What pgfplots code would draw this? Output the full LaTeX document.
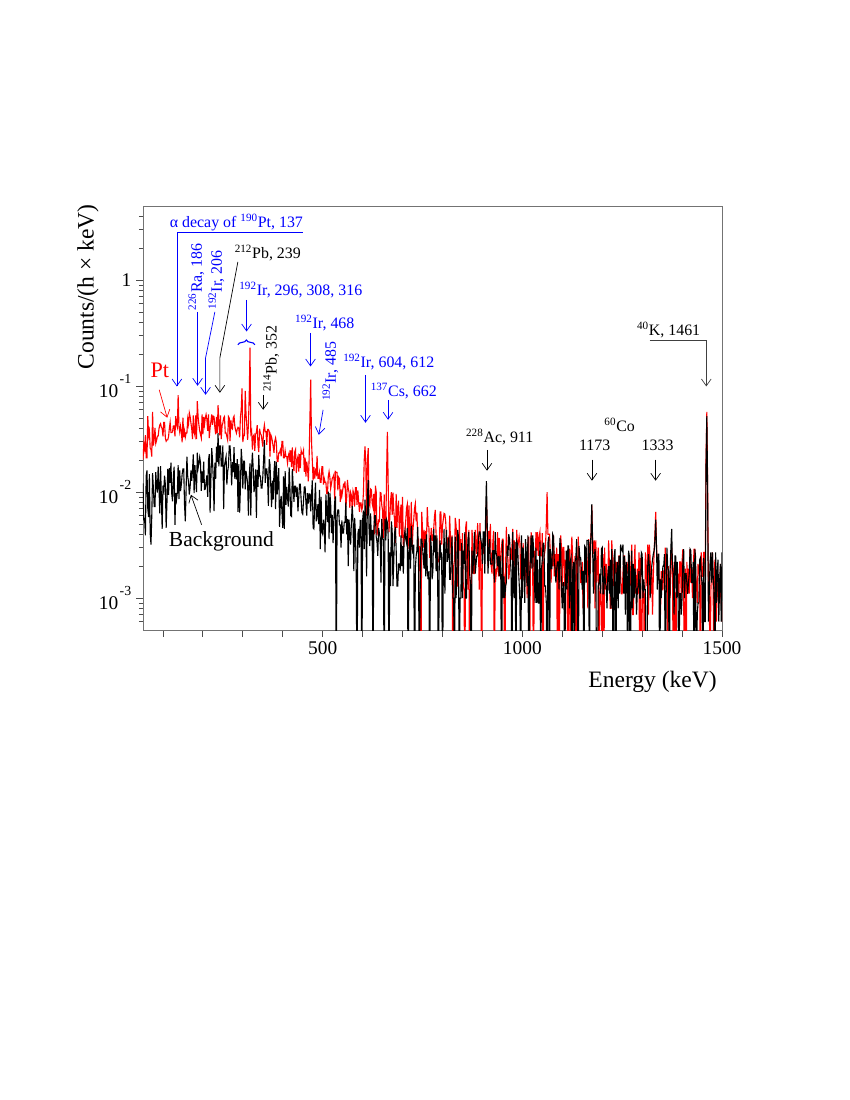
\documentclass[border=0pt]{standalone}
\usepackage{fontspec}
\setmainfont{Liberation Serif}
\usepackage{pgfplots}
\pgfplotsset{compat=1.18}
\usepackage{pgfplotstable}
\usetikzlibrary{arrows.meta,decorations.pathreplacing}

% gamma spectra, counts/(h x keV), 2 keV bins; 1e-4 marks an empty bin
\pgfplotstableread{
E Pt Bg
50 0.0203 0.0121
52 0.0281 0.0055
54 0.0254 0.0056
56 0.0345 0.0039
58 0.0211 0.0143
60 0.0211 0.0160
62 0.052 0.0070
64 0.0342 0.0058
66 0.0377 0.0148
68 0.0261 0.0041
70 0.0252 0.0032
72 0.0216 0.0060
74 0.057 0.0151
76 0.0275 0.0109
78 0.0316 0.0073
80 0.0403 0.0073
82 0.0288 0.0154
84 0.0307 0.0111
86 0.0337 0.0099
88 0.0337 0.0174
90 0.0396 0.0113
92 0.0429 0.0063
94 0.0442 0.0176
96 0.0408 0.0088
98 0.0399 0.0045
100 0.0336 0.0115
102 0.0455 0.0104
104 0.0455 0.0143
106 0.0324 0.0118
108 0.0302 0.0046
110 0.0311 0.0080
112 0.0311 0.0166
114 0.0333 0.0094
116 0.0400 0.0168
118 0.0456 0.0122
120 0.0365 0.0190
122 0.0365 0.0096
124 0.0370 0.0082
126 0.0421 0.0139
128 0.0421 0.0174
130 0.0336 0.0049
132 0.0520 0.0098
134 0.0432 0.0085
136 0.0408 0.0099
138 0.082 0.0180
140 0.0418 0.0086
142 0.0369 0.0160
144 0.0420 0.0102
146 0.0375 0.0118
148 0.0295 0.0147
150 0.0504 0.0165
152 0.0328 0.0165
154 0.0378 0.0076
156 0.0330 0.0053
158 0.0361 0.0108
160 0.0361 0.0216
162 0.0490 0.0140
164 0.0439 0.0125
166 0.0559 0.0095
168 0.0516 0.0111
170 0.0449 0.0160
172 0.0396 0.0128
174 0.0317 0.0162
176 0.0530 0.0227
178 0.0370 0.0098
180 0.0343 0.0180
182 0.0528 0.0133
184 0.0317 0.0100
186 0.072 0.0235
188 0.0513 0.0168
190 0.0432 0.0187
192 0.0378 0.0213
194 0.0351 0.0189
196 0.0324 0.0103
198 0.0540 0.0157
200 0.0351 0.0122
202 0.0513 0.0194
204 0.0432 0.0106
206 0.050 0.0107
208 0.0540 0.0125
210 0.0486 0.0144
212 0.0378 0.0090
214 0.0540 0.0200
216 0.0324 0.0228
218 0.0405 0.0064
220 0.0459 0.0129
222 0.0540 0.0260
224 0.0432 0.0205
226 0.0520 0.0132
228 0.0513 0.0066
230 0.0405 0.0190
232 0.0351 0.0133
234 0.0513 0.0269
236 0.0360 0.0192
238 0.066 0.036
240 0.0450 0.0175
242 0.0343 0.0273
244 0.0528 0.0273
246 0.0317 0.0176
248 0.0422 0.0176
250 0.0449 0.0276
252 0.0500 0.0069
254 0.0516 0.0177
256 0.0361 0.0197
258 0.0361 0.0216
260 0.0335 0.0118
262 0.0310 0.0156
264 0.0516 0.0176
266 0.0500 0.0272
268 0.0302 0.0272
270 0.0479 0.0193
272 0.0403 0.0116
274 0.0394 0.0192
276 0.0500 0.0154
278 0.0520 0.0266
280 0.0418 0.0133
282 0.0384 0.0188
284 0.0360 0.0132
286 0.0392 0.0205
288 0.0408 0.0065
290 0.0398 0.0184
292 0.0328 0.0064
294 0.0507 0.0109
296 0.0600 0.0255
298 0.095 0.0198
300 0.0296 0.0108
302 0.0342 0.0196
304 0.0342 0.0196
306 0.090 0.0106
308 0.0550 0.0158
310 0.0422 0.0139
312 0.0311 0.0122
314 0.0432 0.0060
316 0.0800 0.0138
318 0.23 0.0187
320 0.0357 0.0060
322 0.0378 0.0168
324 0.0252 0.0235
326 0.0336 0.0166
328 0.0347 0.0100
330 0.0245 0.0115
332 0.0350 0.0164
334 0.0367 0.0057
336 0.0429 0.0162
338 0.0277 0.0112
340 0.0238 0.0224
342 0.0396 0.0142
344 0.0356 0.0142
346 0.0346 0.0109
348 0.0307 0.0109
350 0.0269 0.0139
352 0.0380 0.0200
354 0.043 0.031
356 0.0372 0.0122
358 0.0372 0.0165
360 0.0279 0.0165
362 0.0390 0.0133
364 0.0390 0.0074
366 0.0375 0.0204
368 0.0216 0.0183
370 0.0348 0.0115
372 0.0331 0.0072
374 0.0302 0.0128
376 0.0269 0.0085
378 0.0235 0.0154
380 0.0302 0.0196
382 0.0324 0.0069
384 0.0292 0.0193
386 0.0194 0.0095
388 0.0194 0.0122
390 0.0234 0.0168
392 0.0234 0.0047
394 0.0250 0.0079
396 0.0218 0.0092
398 0.0300 0.0065
400 0.0300 0.0046
402 0.0210 0.0141
404 0.0210 0.0045
406 0.0245 0.0158
408 0.0216 0.0076
410 0.0216 0.0112
412 0.0187 0.0087
414 0.0221 0.0073
416 0.0235 0.0171
418 0.0193 0.0108
420 0.0248 0.0060
422 0.0172 0.0059
424 0.0264 0.0165
426 0.0178 0.0116
428 0.0158 0.0081
430 0.0239 0.0114
432 0.0252 0.0114
434 0.0151 0.0090
436 0.0202 0.0112
438 0.0216 0.0066
440 0.0156 0.0088
442 0.0228 0.0119
444 0.0168 0.0119
446 0.0247 0.0085
448 0.0228 0.0064
450 0.0228 0.0062
452 0.0247 0.0083
454 0.0155 0.0112
456 0.0211 0.0112
458 0.0140 0.0080
460 0.0194 0.0060
462 0.0168 0.0098
464 0.0126 0.0078
466 0.0204 0.0096
468 0.0500 0.0096
470 0.115 0.0066
472 0.0300 0.0094
474 0.0198 0.0129
476 0.0129 0.0046
478 0.0173 0.0045
480 0.0134 0.0081
482 0.0158 0.0123
484 0.0149 0.0053
486 0.022 0.0060
488 0.0135 0.0077
490 0.0135 0.0050
492 0.0153 0.0105
494 0.0124 0.0029
496 0.0124 0.0090
498 0.0174 0.0042
500 0.0174 0.0040
502 0.0118 0.0055
504 0.0134 0.0047
506 0.0124 0.0027
508 0.0124 0.0095
510 0.0097 0.0067
512 0.0097 0.0052
514 0.0140 0.0101
516 0.0156 0.0036
518 0.0138 0.0098
520 0.0108 0.0077
522 0.0120 0.0041
524 0.0135 0.0061
526 0.0139 0.0033
528 0.0146 0.0053
530 0.0086 0.0081
532 0.0156 0.0091
534 0.0153 0.0001
536 0.0153 0.0058
538 0.0104 0.0068
540 0.0138 0.0068
542 0.0134 0.0049
544 0.0081 0.0049
546 0.0106 0.0030
548 0.0092 0.0054
550 0.0104 0.0041
552 0.0117 0.0041
554 0.0113 0.0052
556 0.0126 0.0052
558 0.0073 0.0080
560 0.0086 0.0040
562 0.0130 0.0056
564 0.0108 0.0020
566 0.0100 0.0055
568 0.0071 0.0039
570 0.0099 0.0032
572 0.0093 0.0054
574 0.0068 0.0074
576 0.0103 0.0053
578 0.0096 0.0018
580 0.0073 0.0057
582 0.0110 0.0041
584 0.0110 0.0018
586 0.0076 0.0001
588 0.0104 0.0040
590 0.0082 0.0045
592 0.0065 0.0030
594 0.0079 0.0054
596 0.0079 0.0054
598 0.0068 0.0001
600 0.0073 0.0054
602 0.0098 0.0067
604 0.0200 0.0029
606 0.027 0.0085
608 0.0180 0.0047
610 0.0060 0.0016
612 0.0200 0.0090
614 0.026 0.013
616 0.0080 0.0046
618 0.0074 0.0031
620 0.0107 0.0063
622 0.0105 0.0035
624 0.0078 0.0044
626 0.0072 0.0001
628 0.0096 0.0044
630 0.0040 0.0060
632 0.0115 0.0060
634 0.0101 0.0038
636 0.0039 0.0034
638 0.0046 0.0025
640 0.0054 0.0046
642 0.0053 0.0041
644 0.0099 0.0037
646 0.0098 0.0014
648 0.0075 0.0056
650 0.0067 0.0036
652 0.0037 0.0036
654 0.0095 0.0001
656 0.0044 0.0056
658 0.0043 0.0035
660 0.0150 0.0055
662 0.037 0.0052
664 0.0120 0.0039
666 0.0042 0.0001
668 0.0056 0.0027
670 0.0083 0.0013
672 0.0100 0.0053
674 0.0061 0.0043
676 0.0099 0.0013
678 0.0067 0.0022
680 0.0054 0.0041
682 0.0033 0.0047
684 0.0096 0.0029
686 0.0046 0.0013
688 0.0072 0.0013
690 0.0083 0.0021
692 0.0038 0.0021
694 0.0057 0.0018
696 0.0076 0.0039
698 0.0037 0.0020
700 0.0090 0.0031
702 0.0030 0.0017
704 0.0037 0.0037
706 0.0042 0.0043
708 0.0054 0.0036
710 0.0071 0.0033
712 0.0077 0.0046
714 0.0029 0.0001
716 0.0075 0.0026
718 0.0034 0.0037
720 0.0040 0.0019
722 0.0081 0.0048
724 0.0028 0.0032
726 0.0044 0.0026
728 0.0055 0.0032
730 0.0070 0.0001
732 0.0078 0.0019
734 0.0053 0.0025
736 0.0064 0.0028
738 0.0036 0.0047
740 0.0036 0.0022
742 0.0018 0.0001
744 0.0031 0.0011
746 0.0001 0.0036
748 0.0065 0.0036
750 0.0045 0.0031
752 0.0030 0.0023
754 0.0044 0.0019
756 0.0029 0.0036
758 0.0043 0.0016
760 0.0036 0.0040
762 0.0072 0.0018
764 0.0048 0.0015
766 0.0047 0.0018
768 0.0024 0.0001
770 0.0035 0.0039
772 0.0046 0.0030
774 0.0035 0.0015
776 0.0035 0.0018
778 0.0045 0.0045
780 0.0059 0.0027
782 0.0068 0.0039
784 0.0040 0.0018
786 0.0022 0.0039
788 0.0022 0.0015
790 0.0022 0.0001
792 0.0026 0.0027
794 0.0065 0.0035
796 0.0065 0.0023
798 0.0032 0.0027
800 0.0048 0.0001
802 0.0055 0.0018
804 0.0063 0.0045
806 0.0062 0.0011
808 0.0053 0.0027
810 0.0037 0.0044
812 0.0037 0.0022
814 0.0030 0.0026
816 0.0024 0.0038
818 0.0060 0.0015
820 0.0036 0.0015
822 0.0023 0.0026
824 0.0039 0.0038
826 0.0001 0.0010
828 0.0020 0.0010
830 0.0023 0.0001
832 0.0057 0.0038
834 0.0049 0.0010
836 0.0034 0.0015
838 0.0013 0.0044
840 0.0013 0.0038
842 0.0056 0.0001
844 0.0028 0.0010
846 0.0036 0.0010
848 0.0013 0.0033
850 0.0041 0.0010
852 0.0013 0.0028
854 0.0012 0.0021
856 0.0001 0.0042
858 0.0046 0.0010
860 0.0053 0.0010
862 0.0018 0.0025
864 0.0012 0.0036
866 0.0044 0.0042
868 0.0001 0.0017
870 0.0012 0.0014
872 0.0012 0.0001
874 0.0044 0.0028
876 0.0031 0.0017
878 0.0017 0.0025
880 0.0017 0.0042
882 0.0044 0.0017
884 0.0031 0.0021
886 0.0026 0.0025
888 0.0051 0.0025
890 0.0031 0.0036
892 0.0012 0.0042
894 0.0051 0.0042
896 0.0020 0.0036
898 0.0001 0.0032
900 0.0031 0.0021
902 0.0026 0.0042
904 0.0039 0.0042
906 0.0031 0.0017
908 0.0040 0.0060
910 0.0083 0.0127
912 0.0050 0.0050
914 0.0020 0.0017
916 0.0043 0.0028
918 0.0030 0.0036
920 0.0050 0.0021
922 0.0020 0.0021
924 0.0017 0.0021
926 0.0033 0.0028
928 0.0043 0.0028
930 0.0001 0.0014
932 0.0019 0.0042
934 0.0016 0.0027
936 0.0019 0.0025
938 0.0042 0.0020
940 0.0016 0.0025
942 0.0037 0.0016
944 0.0019 0.0025
946 0.0023 0.0016
948 0.0031 0.0001
950 0.0036 0.0035
952 0.0036 0.0010
954 0.0011 0.0016
956 0.0001 0.0010
958 0.0019 0.0013
960 0.0047 0.0014
962 0.0027 0.0031
964 0.0023 0.0025
966 0.0015 0.0040
968 0.0018 0.0036
970 0.0030 0.0024
972 0.0023 0.0017
974 0.0031 0.0001
976 0.0045 0.0042
978 0.0015 0.0013
980 0.0035 0.0010
982 0.0022 0.0034
984 0.0015 0.0001
986 0.0044 0.0034
988 0.0029 0.0032
990 0.0033 0.0020
992 0.0038 0.0014
994 0.0033 0.0009
996 0.0015 0.0001
998 0.0026 0.0039
1000 0.0017 0.0010
1002 0.0033 0.0030
1004 0.0015 0.0021
1006 0.0015 0.0009
1008 0.0017 0.0036
1010 0.0022 0.0026
1012 0.0010 0.0013
1014 0.0033 0.0039
1016 0.0038 0.0001
1018 0.0001 0.0016
1020 0.0017 0.0023
1022 0.0042 0.0039
1024 0.0032 0.0019
1026 0.0017 0.0039
1028 0.0001 0.0030
1030 0.0028 0.0016
1032 0.0017 0.0009
1034 0.0042 0.0030
1036 0.0028 0.0009
1038 0.0042 0.0023
1040 0.0025 0.0009
1042 0.0038 0.0009
1044 0.0042 0.0034
1046 0.0025 0.0001
1048 0.0025 0.0019
1050 0.0041 0.0023
1052 0.0001 0.0033
1054 0.0024 0.0033
1056 0.0027 0.0013
1058 0.0031 0.0013
1060 0.0050 0.0009
1062 0.010 0.0001
1064 0.0040 0.0033
1066 0.0040 0.0038
1068 0.0040 0.0001
1070 0.0027 0.0029
1072 0.0014 0.0019
1074 0.0026 0.0019
1076 0.0020 0.0040
1078 0.0039 0.0038
1080 0.0016 0.0022
1082 0.0026 0.0019
1084 0.0016 0.0014
1086 0.0030 0.0019
1088 0.0001 0.0022
1090 0.0026 0.0022
1092 0.0001 0.0012
1094 0.0013 0.0037
1096 0.0039 0.0028
1098 0.0030 0.0012
1100 0.0013 0.0008
1102 0.0030 0.0014
1104 0.0030 0.0014
1106 0.0013 0.0001
1108 0.0023 0.0012
1110 0.0020 0.0028
1112 0.0016 0.0012
1114 0.0001 0.0031
1116 0.0020 0.0031
1118 0.0029 0.0008
1120 0.0001 0.0022
1122 0.0025 0.0024
1124 0.0038 0.0001
1126 0.0024 0.0018
1128 0.0013 0.0022
1130 0.0015 0.0001
1132 0.0025 0.0022
1134 0.0001 0.0024
1136 0.0025 0.0036
1138 0.0015 0.0012
1140 0.0038 0.0001
1142 0.0023 0.0031
1144 0.0023 0.0024
1146 0.0014 0.0024
1148 0.0014 0.0018
1150 0.0022 0.0012
1152 0.0008 0.0018
1154 0.0018 0.0001
1156 0.0018 0.0031
1158 0.0028 0.0030
1160 0.0028 0.0014
1162 0.0022 0.0035
1164 0.0008 0.0035
1166 0.0036 0.0035
1168 0.0031 0.0001
1170 0.0017 0.0030
1172 0.0040 0.0040
1174 0.0075 0.0077
1176 0.0035 0.0030
1178 0.0026 0.0011
1180 0.0035 0.0023
1182 0.0008 0.0029
1184 0.0035 0.0023
1186 0.0014 0.0001
1188 0.0021 0.0001
1190 0.0030 0.0013
1192 0.0001 0.0014
1194 0.0012 0.0017
1196 0.0014 0.0011
1198 0.0008 0.0029
1200 0.0001 0.0030
1202 0.0026 0.0011
1204 0.0001 0.0011
1206 0.0030 0.0020
1208 0.0012 0.0014
1210 0.0021 0.0013
1212 0.0014 0.0008
1214 0.0012 0.0016
1216 0.0035 0.0020
1218 0.0021 0.0011
1220 0.0008 0.0023
1222 0.0008 0.0008
1224 0.0035 0.0029
1226 0.0022 0.0008
1228 0.0013 0.0001
1230 0.0023 0.0025
1232 0.0022 0.0029
1234 0.0017 0.0001
1236 0.0022 0.0016
1238 0.0011 0.0022
1240 0.0017 0.0008
1242 0.0025 0.0025
1244 0.0025 0.0011
1246 0.0017 0.0032
1248 0.0011 0.0029
1250 0.0011 0.0028
1252 0.0017 0.0032
1254 0.0025 0.0011
1256 0.0025 0.0025
1258 0.0017 0.0007
1260 0.0011 0.0022
1262 0.0022 0.0016
1264 0.0017 0.0001
1266 0.0021 0.0028
1268 0.0021 0.0025
1270 0.0013 0.0001
1272 0.0021 0.0008
1274 0.0032 0.0028
1276 0.0007 0.0008
1278 0.0007 0.0021
1280 0.0019 0.0010
1282 0.0032 0.0019
1284 0.0011 0.0015
1286 0.0013 0.0007
1288 0.0019 0.0012
1290 0.0011 0.0013
1292 0.0027 0.0018
1294 0.0001 0.0010
1296 0.0024 0.0010
1298 0.0001 0.0027
1300 0.0007 0.0026
1302 0.0013 0.0010
1304 0.0011 0.0015
1306 0.0001 0.0012
1308 0.0027 0.0012
1310 0.0019 0.0001
1312 0.0013 0.0001
1314 0.0032 0.0020
1316 0.0007 0.0026
1318 0.0032 0.0020
1320 0.0024 0.0010
1322 0.0011 0.0015
1324 0.0019 0.0020
1326 0.0007 0.0023
1328 0.0016 0.0026
1330 0.0027 0.0028
1332 0.0040 0.0035
1334 0.0065 0.0055
1336 0.0030 0.0030
1338 0.0023 0.0012
1340 0.0023 0.0026
1342 0.0015 0.0026
1344 0.0015 0.0001
1346 0.0007 0.0015
1348 0.0018 0.0010
1350 0.0012 0.0015
1352 0.0012 0.0020
1354 0.0018 0.0020
1356 0.0018 0.0026
1358 0.0030 0.0001
1360 0.0012 0.0010
1362 0.0020 0.0030
1364 0.0001 0.0020
1366 0.0020 0.0018
1368 0.0012 0.0001
1370 0.0010 0.0018
1372 0.0020 0.0030
1374 0.0030 0.0045
1376 0.0020 0.0019
1378 0.0001 0.0017
1380 0.0022 0.0007
1382 0.0014 0.0025
1384 0.0001 0.0025
1386 0.0011 0.0010
1388 0.0014 0.0022
1390 0.0017 0.0010
1392 0.0010 0.0001
1394 0.0022 0.0011
1396 0.0022 0.0011
1398 0.0010 0.0007
1400 0.0022 0.0010
1402 0.0029 0.0022
1404 0.0010 0.0029
1406 0.0001 0.0010
1408 0.0019 0.0017
1410 0.0001 0.0017
1412 0.0022 0.0014
1414 0.0011 0.0011
1416 0.0019 0.0014
1418 0.0011 0.0017
1420 0.0029 0.0029
1422 0.0014 0.0028
1424 0.0019 0.0014
1426 0.0010 0.0014
1428 0.0019 0.0022
1430 0.0029 0.0001
1432 0.0029 0.0029
1434 0.0016 0.0024
1436 0.0014 0.0001
1438 0.0009 0.0007
1440 0.0021 0.0009
1442 0.0018 0.0009
1444 0.0016 0.0023
1446 0.0001 0.0024
1448 0.0027 0.0016
1450 0.0016 0.0014
1452 0.0016 0.0001
1454 0.0027 0.0024
1456 0.0027 0.0006
1458 0.0016 0.0006
1460 0.0200 0.0180
1462 0.057 0.052
1464 0.0120 0.0100
1466 0.0011 0.0006
1468 0.0018 0.0011
1470 0.0001 0.0021
1472 0.0011 0.0027
1474 0.0021 0.0014
1476 0.0027 0.0027
1478 0.0011 0.0016
1480 0.0001 0.0011
1482 0.0023 0.0001
1484 0.0021 0.0027
1486 0.0006 0.0009
1488 0.0014 0.0018
1490 0.0011 0.0023
1492 0.0009 0.0006
1494 0.0009 0.0014
1496 0.0021 0.0021
1498 0.0011 0.0006
1500 0.0006 0.0027
}\spectra

\newcommand\sups[1]{\textsuperscript{#1}}
\newcommand\tl[1]{10\kern1pt\raisebox{0.72em}{\fontsize{10}{10}\selectfont #1}}

\begin{document}
\begin{tikzpicture}
\path[use as bounding box] (0,0) rectangle (8.5in,-11in);
\begin{axis}[
  at={(1.43in,-6.30in)}, anchor=south west,
  scale only axis, width=5.79in, height=4.24in,
  ymode=log, xmin=50, xmax=1500, ymin=5e-4, ymax=5,
  axis line style={black!55, line width=0.6pt},
  tick style={black!70, line width=0.6pt},
  tick align=outside, tick pos=left,
  major tick length=5pt, minor tick length=3pt,
  xtick={100,200,...,1500},
  xticklabels={,,,,500,,,,,1000,,,,,1500},
  ytick={0.001,0.01,0.1,1},
  yticklabels={\tl{-3},\tl{-2},\tl{-1},1},
  minor ytick={6e-4,7e-4,8e-4,9e-4,2e-3,3e-3,4e-3,5e-3,6e-3,7e-3,8e-3,9e-3,
    2e-2,3e-2,4e-2,5e-2,6e-2,7e-2,8e-2,9e-2,0.2,0.3,0.4,0.5,0.6,0.7,0.8,0.9,2,3,4},
  ticklabel style={font=\fontsize{14}{14}\selectfont},
  clip mode=individual,
]
\addplot[red, line width=0.8pt] table[x=E, y=Pt] {\spectra};
\addplot[black, line width=0.8pt] table[x=E, y=Bg] {\spectra};
\end{axis}

\begin{scope}[x=0.01in, y=-0.01in,
  font=\fontsize{11.5}{13}\selectfont,
  arr/.style={-{Straight Barb[length=5pt,width=7pt]}, line width=0.5pt}]
% axis titles
\node[rotate=90, font=\fontsize{17}{17}\selectfont] at (88,287) {Counts/(h × keV)};
\node[anchor=base east, font=\fontsize{17}{17}\selectfont] at (722,688) {Energy (keV)};
% blue lines
\node[blue, anchor=base] at (236.5,228) {α decay of \sups{190}Pt, 137};
\draw[blue, arr] (303,232.7) -- (177,232.7) -- (177,386.7);
\node[blue, rotate=90, anchor=base] at (202,277) {\sups{226}Ra, 186};
\draw[blue, arr] (197.7,312) -- (197.7,386);
\node[blue, rotate=90, anchor=base] at (222,280) {\sups{192}Ir, 206};
\draw[blue, arr] (215,312) -- (205.7,358) -- (205.7,395);
\node[blue, anchor=base] at (301,296) {\sups{192}Ir, 296, 308, 316};
\draw[blue, arr] (246.7,300) -- (246.7,331.7);
\draw[blue, line width=0.8pt, decorate, decoration={brace, amplitude=3.5pt}] (238,345) -- (255,345);
\node[blue, anchor=base] at (325,328.3) {\sups{192}Ir, 468};
\draw[blue, arr] (310.7,333) -- (310.7,366.7);
\node[blue, rotate=90, anchor=base] at (336,371.5) {\sups{192}Ir, 485};
\draw[blue, arr] (323.3,410) -- (319,435);
\node[blue, anchor=base] at (389,367.7) {\sups{192}Ir, 604, 612};
\draw[blue, arr] (365.7,375) -- (365.7,423);
\node[blue, anchor=base] at (404,396.7) {\sups{137}Cs, 662};
\draw[blue, arr] (388.3,400) -- (388.3,420);
% black lines
\node[anchor=base] at (268,258.3) {\sups{212}Pb, 239};
\draw[arr] (238,262) -- (220,358) -- (220,393);
\node[rotate=90, anchor=base] at (276.7,359) {\sups{214}Pb, 352};
\draw[arr] (263.3,395) -- (263.3,410);
\node[anchor=base] at (500,442.7) {\sups{228}Ac, 911};
\draw[arr] (487.3,450) -- (487.3,471);
\node[anchor=base] at (620,431.7) {\sups{60}Co};
\node[anchor=base] at (595,450.7) {1173};
\draw[arr] (592.3,460) -- (592.3,481);
\node[anchor=base] at (658,450.7) {1333};
\draw[arr] (656,460) -- (656,481);
\node[anchor=base] at (669,336) {\sups{40}K, 1461};
\draw[arr, black!75] (650,340.7) -- (706.7,340.7) -- (706.7,386.7);
% series labels
\node[red, anchor=base, font=\fontsize{16}{16}\selectfont] at (160,377.7) {Pt};
\draw[red, arr] (159.3,390) -- (167.3,418);
\node[anchor=base, font=\fontsize{15.5}{16}\selectfont] at (221.5,546.7) {Background};
\draw[arr] (201.7,525) -- (191,495);
\end{scope}
\end{tikzpicture}
\end{document}
